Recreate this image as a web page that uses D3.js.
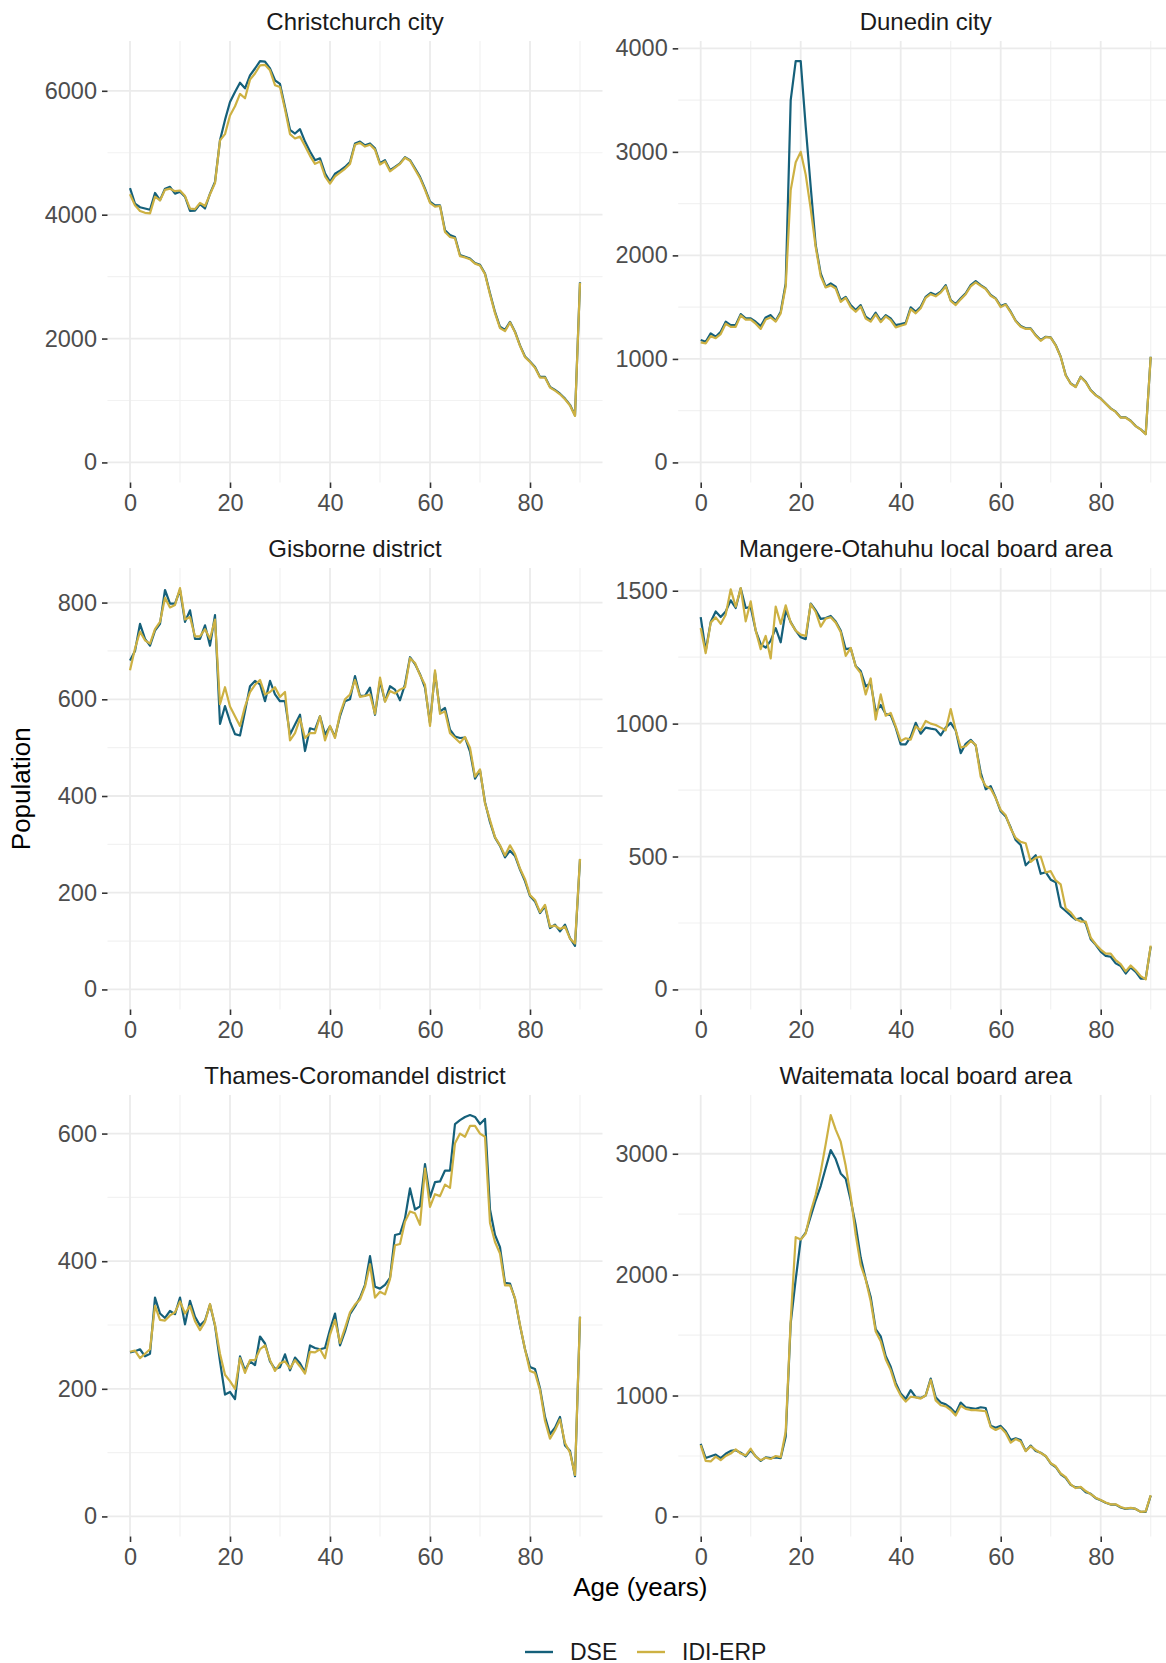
<!DOCTYPE html>
<html>
<head>
<meta charset="utf-8">
<script src="https://cdn.jsdelivr.net/npm/d3@7"></script>
<style>
body{margin:0;background:#fff;}
text{font-family:"Liberation Sans",Arial,Helvetica,sans-serif;}
</style>
</head>
<body>
<svg id="chart"></svg>
<script>
// ---------- data ----------
const ages=d3.range(0,91);
const seriesNames=["DSE","IDI-ERP"];
const seriesColors=["#15607a","#cdb143"];

const areaNames=[
  "Christchurch city","Dunedin city",
  "Gisborne district","Mangere-Otahuhu local board area",
  "Thames-Coromandel district","Waitemata local board area"
];

const chchDSE=[4430,4180,4120,4100,4080,4350,4235,4420,4450,4340,
  4370,4290,4060,4065,4170,4100,4340,4530,5200,5530,
  5820,5980,6130,6040,6250,6360,6480,6470,6360,6170,
  6110,5740,5370,5310,5380,5180,5020,4880,4910,4670,
  4530,4660,4710,4770,4850,5150,5180,5120,5150,5070,
  4830,4880,4720,4770,4830,4930,4880,4750,4610,4420,
  4210,4150,4150,3750,3670,3640,3350,3320,3290,3220,
  3190,3050,2730,2430,2190,2140,2270,2110,1890,1710,
  1630,1540,1380,1380,1220,1170,1110,1030,930,760,
  2910];
const chchIDI=[4330,4150,4060,4030,4020,4290,4230,4400,4420,4380,
  4390,4300,4100,4090,4190,4140,4330,4510,5200,5300,
  5600,5750,5950,5880,6180,6280,6410,6420,6330,6090,
  6060,5700,5300,5230,5260,5110,4950,4820,4860,4620,
  4500,4620,4680,4740,4820,5130,5160,5100,5130,5050,
  4810,4860,4700,4760,4820,4920,4870,4730,4590,4400,
  4190,4130,4140,3720,3640,3620,3330,3310,3280,3210,
  3180,3040,2710,2410,2170,2120,2260,2100,1880,1700,
  1620,1530,1370,1370,1210,1160,1100,1020,920,750,
  2900];

const dunedinDSE=[1182,1166,1246,1214,1262,1359,1327,1327,1433,1391,
  1391,1359,1317,1401,1423,1369,1456,1729,3500,3877,
  3877,3243,2663,2100,1826,1697,1729,1697,1568,1600,
  1520,1472,1520,1407,1375,1446,1369,1423,1391,1327,
  1336,1349,1498,1456,1504,1600,1639,1617,1649,1713,
  1568,1530,1585,1633,1713,1752,1713,1681,1617,1585,
  1510,1530,1456,1369,1317,1295,1295,1230,1182,1214,
  1208,1134,1021,844,763,731,828,779,699,651,
  618,570,522,490,435,435,403,351,319,274,
  1021];
const dunedinIDI=[1160,1150,1220,1200,1240,1340,1310,1310,1420,1380,
  1380,1340,1290,1380,1400,1360,1440,1700,2630,2900,
  3000,2780,2450,2080,1800,1690,1710,1680,1550,1590,
  1500,1455,1505,1390,1360,1430,1355,1410,1375,1305,
  1320,1335,1480,1440,1490,1590,1625,1605,1640,1700,
  1560,1520,1575,1625,1700,1740,1705,1675,1610,1580,
  1500,1525,1450,1365,1310,1290,1290,1225,1175,1210,
  1205,1130,1020,840,760,728,825,775,695,648,
  615,568,520,488,432,432,400,350,318,272,
  1020];

const gisborneDSE=[680,700,756,725,711,742,756,826,798,798,
  826,760,784,725,725,753,711,774,549,586,
  554,528,525,575,627,638,631,596,638,610,
  596,596,527,548,568,493,540,537,565,527,
  544,523,565,596,600,648,607,607,624,568,
  638,596,627,620,598,631,687,673,652,624,
  551,655,575,582,537,523,520,521,492,436,
  453,387,346,314,297,273,287,276,248,224,
  193,182,158,172,127,134,120,134,106,90,
  269];
const gisborneIDI=[660,705,740,722,715,745,760,810,790,795,
  830,765,770,730,730,745,725,765,590,625,
  585,565,545,585,615,630,640,610,615,625,
  605,615,515,530,560,520,530,530,565,515,
  545,520,570,600,610,640,605,607,610,570,
  645,595,617,612,620,625,685,675,650,630,
  545,660,570,575,530,520,510,522,500,440,
  455,385,350,315,298,277,298,280,250,228,
  195,185,160,175,130,132,125,130,105,95,
  270];

const mangereDSE=[1401,1274,1382,1422,1401,1422,1464,1435,1509,1435,
  1439,1350,1299,1286,1312,1359,1306,1426,1382,1350,
  1325,1318,1452,1426,1394,1397,1405,1384,1350,1280,
  1283,1217,1198,1140,1153,1045,1070,1036,1032,985,
  922,922,950,1003,962,985,981,978,956,985,
  1003,975,889,924,939,918,816,753,765,721,
  670,651,609,562,543,467,486,505,435,441,
  413,403,311,295,278,263,269,248,189,168,
  142,126,123,98,88,60,83,66,41,41,
  161];
const mangereIDI=[1360,1265,1380,1400,1375,1410,1505,1440,1510,1385,
  1460,1350,1280,1330,1245,1440,1375,1445,1380,1350,
  1335,1330,1450,1420,1365,1395,1400,1380,1345,1255,
  1285,1215,1190,1110,1170,1015,1110,1030,1040,990,
  935,945,940,990,975,1010,1000,995,985,975,
  1055,975,910,915,935,920,800,765,755,720,
  675,655,605,570,555,550,480,495,500,440,
  445,410,395,305,290,265,255,255,195,170,
  150,135,135,110,95,68,90,72,50,38,
  165];

const thamesDSE=[257,259,262,251,255,343,318,311,322,317,
  343,301,338,313,299,307,332,299,243,191,
  195,184,251,229,243,237,282,271,243,231,
  234,254,229,249,240,226,268,264,262,264,
  293,318,268,290,317,329,343,363,408,360,
  357,363,374,441,443,467,514,481,486,552,
  500,524,525,542,542,615,621,626,629,626,
  615,623,481,441,422,366,365,341,299,262,
  234,231,201,156,129,139,156,111,103,63,
  313];
const thamesIDI=[258,260,248,255,262,330,308,307,315,320,
  337,318,330,306,292,305,333,300,255,222,
  212,200,248,225,245,245,262,268,245,228,
  240,243,232,245,235,224,258,257,262,248,
  285,308,272,295,320,332,340,360,395,343,
  352,348,372,425,427,462,478,475,457,545,
  485,505,502,520,515,585,600,595,612,612,
  600,595,460,430,412,362,362,342,300,262,
  228,225,198,150,122,135,152,115,100,65,
  313];

const waitemataDSE=[601,483,498,512,483,518,542,548,527,498,
  548,498,459,489,483,489,483,660,1600,1960,
  2289,2348,2482,2615,2733,2882,3030,2956,2837,2793,
  2615,2408,2141,1963,1815,1549,1490,1327,1238,1105,
  1016,971,1045,986,980,1001,1140,986,942,927,
  897,853,942,903,897,891,903,897,749,734,
  749,705,631,646,631,542,586,542,527,498,
  438,409,349,320,261,240,240,201,187,151,
  133,113,98,98,74,62,68,62,38,38,
  172];
const waitemataIDI=[590,460,455,495,465,500,520,555,520,505,
  560,495,465,485,475,500,490,700,1620,2310,
  2290,2340,2520,2660,2850,3080,3320,3200,3100,2900,
  2650,2330,2080,1960,1780,1530,1450,1300,1210,1080,
  1000,950,990,985,975,1000,1130,960,920,910,
  880,835,915,890,880,880,875,870,740,715,
  735,690,610,640,620,540,580,550,525,500,
  440,415,355,325,265,235,245,210,185,155,
  135,115,100,100,78,65,72,62,38,42,
  175];

const xTicks=[0,20,40,60,80];
const yTicks=[
  [0,2000,4000,6000],
  [0,1000,2000,3000,4000],
  [0,200,400,600,800],
  [0,500,1000,1500],
  [0,200,400,600],
  [0,1000,2000,3000]
];

const panels=[
  [chchDSE,chchIDI],
  [dunedinDSE,dunedinIDI],
  [gisborneDSE,gisborneIDI],
  [mangereDSE,mangereIDI],
  [thamesDSE,thamesIDI],
  [waitemataDSE,waitemataIDI]
].map((s,i)=>({name:areaNames[i],series:s,ticks:yTicks[i]}));

// ---------- layout ----------
const W=1166,H=1663;
const PANEL_W=495,PANEL_H=441.5;
const colLeft=[107.5,678.2];
const rowTop=[41,568,1095];
const GRID_MAJOR="#ebebeb",GRID_MINOR="#f2f2f2";
const TEXT_DARK="#1a1a1a",TEXT_TICK="#4d4d4d";

const svg=d3.select("#chart").attr("width",W).attr("height",H);
svg.append("rect").attr("width",W).attr("height",H).attr("fill","#fff");

// 中間の補助目盛（ggplot の minor break と同じ考え方）
function midBreaks(b,dom){
  const step=b[1]-b[0];
  const ext=[b[0]-step,...b,b[b.length-1]+step];
  const out=[];
  for(let i=0;i<ext.length-1;i++){
    const m=(ext[i]+ext[i+1])/2;
    if(m>=dom[0]&&m<=dom[1]) out.push(m);
  }
  return out;
}

const line=d3.line().x(d=>d[0]).y(d=>d[1]);

panels.forEach((p,i)=>{
  const col=i%2,row=Math.floor(i/2);
  const left=colLeft[col],top=rowTop[row];
  const x=d3.scaleLinear().domain([-4.5,94.5]).range([left,left+PANEL_W]);
  const maxV=d3.max(p.series.flat());
  const y=d3.scaleLinear().domain([-0.05*maxV,1.05*maxV]).range([top+PANEL_H,top]);
  const g=svg.append("g");

  // grid
  const xMinor=midBreaks(xTicks,x.domain()).filter(v=>v<=90);
  const yMinor=midBreaks(p.ticks,y.domain());
  g.selectAll(".ymin").data(yMinor).join("line")
    .attr("x1",left).attr("x2",left+PANEL_W)
    .attr("y1",d=>y(d)).attr("y2",d=>y(d))
    .attr("stroke",GRID_MINOR).attr("stroke-width",1.2);
  g.selectAll(".xmin").data(xMinor).join("line")
    .attr("x1",d=>x(d)).attr("x2",d=>x(d))
    .attr("y1",top).attr("y2",top+PANEL_H)
    .attr("stroke",GRID_MINOR).attr("stroke-width",1.2);
  g.selectAll(".ymaj").data(p.ticks).join("line")
    .attr("x1",left).attr("x2",left+PANEL_W)
    .attr("y1",d=>y(d)).attr("y2",d=>y(d))
    .attr("stroke",GRID_MAJOR).attr("stroke-width",1.8);
  g.selectAll(".xmaj").data(xTicks).join("line")
    .attr("x1",d=>x(d)).attr("x2",d=>x(d))
    .attr("y1",top).attr("y2",top+PANEL_H)
    .attr("stroke",GRID_MAJOR).attr("stroke-width",1.8);

  // axes
  const xAxis=g.append("g").attr("transform",`translate(0,${top+PANEL_H})`)
    .call(d3.axisBottom(x).tickValues(xTicks).tickSize(5.5).tickPadding(6));
  const yAxis=g.append("g").attr("transform",`translate(${left},0)`)
    .call(d3.axisLeft(y).tickValues(p.ticks).tickSize(5.5).tickPadding(5).tickFormat(d3.format("d")));
  [xAxis,yAxis].forEach(a=>{
    a.select(".domain").remove();
    a.selectAll(".tick line").attr("stroke","#333").attr("stroke-width",1.6);
    a.selectAll(".tick text").attr("fill",TEXT_TICK).attr("font-size",23.5)
      .style("font-family",'"Liberation Sans",Arial,sans-serif');
  });

  // lines
  p.series.forEach((vals,k)=>{
    g.append("path")
      .attr("d",line(ages.map((a,j)=>[x(a),y(vals[j])])))
      .attr("fill","none")
      .attr("stroke",seriesColors[k])
      .attr("stroke-width",2.2)
      .attr("stroke-linejoin","round");
  });

  // strip title
  svg.append("text")
    .attr("x",left+PANEL_W/2).attr("y",top-11.5)
    .attr("text-anchor","middle").attr("font-size",24)
    .attr("fill",TEXT_DARK).text(p.name);
});

// axis titles
svg.append("text").attr("x",(colLeft[0]+colLeft[1]+PANEL_W)/2).attr("y",1596)
  .attr("text-anchor","middle").attr("font-size",26).attr("fill","#000")
  .text("Age (years)");
svg.append("text")
  .attr("transform",`translate(30,${(rowTop[0]+rowTop[2]+PANEL_H)/2}) rotate(-90)`)
  .attr("text-anchor","middle").attr("font-size",26).attr("fill","#000")
  .text("Population");

// legend
const legend=svg.append("g").attr("transform","translate(525,1652)");
const keyX=[0,112];
seriesNames.forEach((n,k)=>{
  legend.append("line").attr("x1",keyX[k]).attr("x2",keyX[k]+28)
    .attr("y1",0).attr("y2",0)
    .attr("stroke",seriesColors[k]).attr("stroke-width",2.4);
  legend.append("text").attr("x",keyX[k]+45).attr("y",7.5)
    .attr("font-size",23).attr("fill",TEXT_DARK).text(n);
});
</script>
</body>
</html>
